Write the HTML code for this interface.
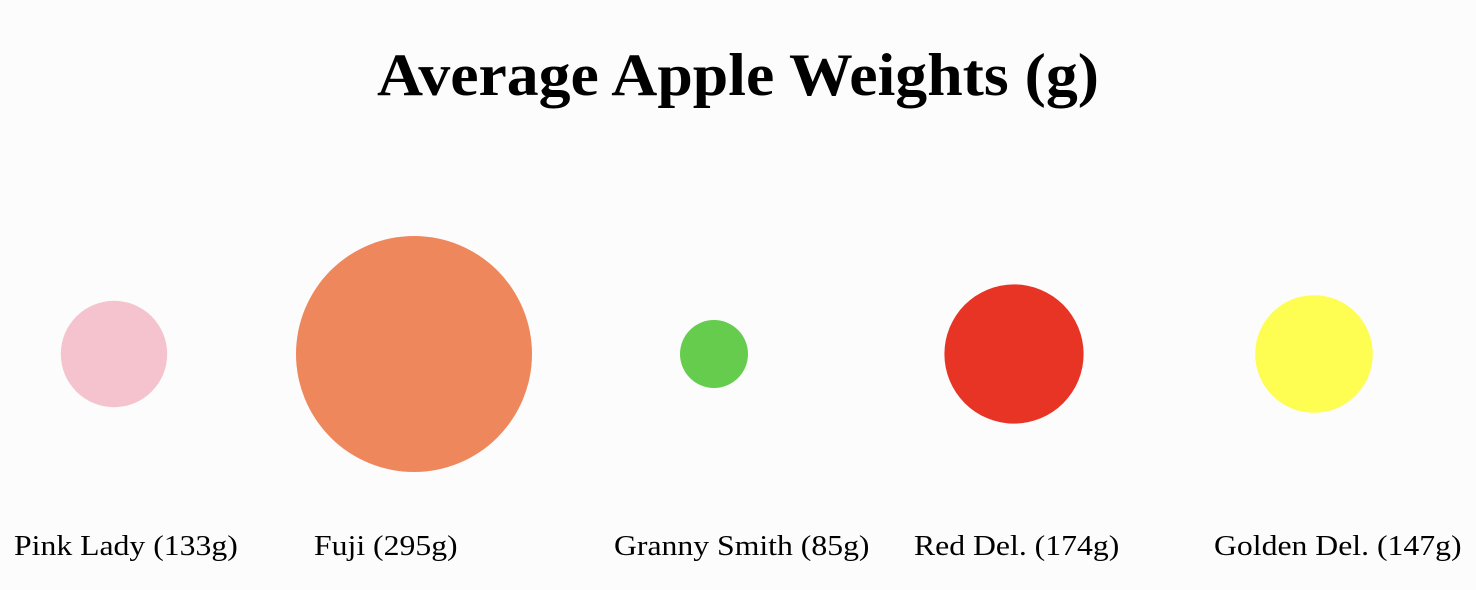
<!DOCTYPE html>
<html><head><meta charset="utf-8"><style>
html,body{margin:0;padding:0;background:#fcfcfc;}
svg{display:block;}
</style></head><body>
<svg id="chart" width="1476" height="590" xmlns="http://www.w3.org/2000/svg">
<rect width="1476" height="590" fill="#fcfcfc"/>
<text x="738" y="95" text-anchor="middle" font-family="Liberation Serif, serif" font-weight="bold" font-size="60" textLength="722" lengthAdjust="spacingAndGlyphs" fill="#000">Average Apple Weights (g)</text>
<g id="marks"></g>
</svg>
<script>
const categories = ["Pink Lady", "Fuji", "Granny Smith", "Red Del.", "Golden Del."];
const weights = [133, 295, 85, 174, 147];
const colors = ["#f5c3cd", "#ef875c", "#66cc4d", "#e83424", "#fefd51"];
const NS = "http://www.w3.org/2000/svg";
const g = document.getElementById("marks");
const xPos = i => 114 + i * 300;
const rScale = v => v * 0.4;
const cy = 354;
categories.forEach((c, i) => {
  const circ = document.createElementNS(NS, "circle");
  circ.setAttribute("cx", xPos(i));
  circ.setAttribute("cy", cy);
  circ.setAttribute("r", rScale(weights[i]));
  circ.setAttribute("fill", colors[i]);
  
  
  g.appendChild(circ);
  const t = document.createElementNS(NS, "text");
  t.setAttribute("x", xPos(i) - 100);
  t.setAttribute("y", 555);
  t.setAttribute("font-family", "Liberation Serif, serif");
  t.setAttribute("font-size", "28");
  t.setAttribute("fill", "#000");
  t.textContent = c + " (" + weights[i] + "g)";
  
  
  g.appendChild(t);
  const w = t.getComputedTextLength();
  t.setAttribute("textLength", w * 26 / 28 * 1.22);
  t.setAttribute("lengthAdjust", "spacingAndGlyphs");
});
</script>
</body></html>
